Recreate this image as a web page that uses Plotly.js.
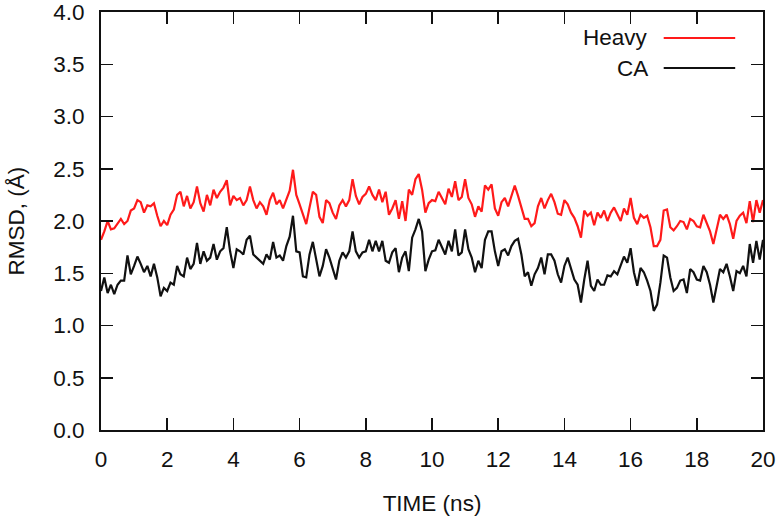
<!DOCTYPE html>
<html>
<head>
<meta charset="utf-8">
<script src="https://cdn.plot.ly/plotly-3.0.1.min.js"></script>
<style>html,body{margin:0;padding:0;background:#fff;}#chart{width:781px;height:518px;}</style>
</head>
<body>
<div id="chart"></div>
<script>
// Time grid: first sample and sampling step (ns)
const timeStart = 0;
const timeStep = 0.1;

// RMSD of heavy atoms (Å), sampled every 0.1 ns from 0 to 20 ns
const heavyRMSD = [
  1.82,1.90,2.00,1.92,1.93,1.98,2.02,1.97,2.00,2.10,
  2.12,2.20,2.18,2.08,2.15,2.14,2.17,2.05,1.95,2.00,
  1.96,2.06,2.11,2.25,2.28,2.14,2.24,2.12,2.18,2.33,
  2.17,2.09,2.25,2.15,2.30,2.22,2.28,2.32,2.39,2.15,
  2.24,2.20,2.22,2.15,2.20,2.33,2.20,2.12,2.18,2.14,
  2.06,2.20,2.27,2.16,2.20,2.12,2.21,2.29,2.49,2.25,
  2.16,2.06,1.97,2.13,2.28,2.25,2.04,1.98,2.20,2.17,
  2.08,2.02,2.15,2.20,2.14,2.20,2.40,2.24,2.16,2.23,
  2.26,2.33,2.25,2.20,2.30,2.18,2.28,2.06,2.12,2.20,
  2.02,2.19,2.00,2.30,2.25,2.40,2.45,2.30,2.08,2.17,
  2.20,2.19,2.28,2.22,2.16,2.31,2.23,2.38,2.20,2.23,
  2.40,2.22,2.16,2.04,2.14,2.09,2.34,2.30,2.35,2.12,
  2.05,2.18,2.22,2.14,2.25,2.34,2.24,2.12,2.02,2.02,
  1.95,1.98,2.14,2.22,2.12,2.20,2.26,2.18,2.07,2.06,
  2.20,2.16,2.08,2.03,1.95,1.84,2.10,2.05,2.08,1.96,
  2.08,2.03,2.10,2.00,2.08,2.13,2.06,2.00,2.12,2.06,
  2.22,2.03,1.97,2.06,2.03,2.05,1.94,1.76,1.76,1.82,
  2.10,2.11,1.94,1.91,1.95,2.00,1.99,1.92,2.02,2.00,
  1.95,1.94,2.06,1.97,1.90,1.78,1.93,2.06,2.02,2.06,
  1.97,1.83,2.00,2.05,2.08,1.98,2.19,1.99,2.20,2.08,
  2.20
];

// RMSD of C-alpha atoms (Å), sampled every 0.1 ns from 0 to 20 ns
const caRMSD = [
  1.33,1.46,1.31,1.39,1.30,1.39,1.43,1.43,1.67,1.49,
  1.57,1.66,1.59,1.51,1.57,1.47,1.59,1.46,1.28,1.36,
  1.33,1.41,1.39,1.57,1.49,1.47,1.65,1.54,1.59,1.79,
  1.59,1.71,1.62,1.65,1.78,1.63,1.71,1.74,1.94,1.71,
  1.55,1.73,1.71,1.68,1.82,1.86,1.68,1.65,1.62,1.59,
  1.68,1.63,1.80,1.65,1.67,1.62,1.76,1.85,2.05,1.71,
  1.70,1.47,1.46,1.68,1.80,1.65,1.47,1.57,1.73,1.65,
  1.55,1.44,1.62,1.70,1.65,1.71,1.90,1.71,1.65,1.70,
  1.71,1.82,1.71,1.81,1.71,1.81,1.62,1.60,1.70,1.74,
  1.51,1.65,1.71,1.52,1.84,1.92,2.02,1.90,1.52,1.63,
  1.71,1.72,1.82,1.75,1.68,1.81,1.71,1.92,1.67,1.70,
  1.92,1.73,1.65,1.51,1.62,1.55,1.82,1.90,1.90,1.71,
  1.57,1.71,1.73,1.67,1.76,1.81,1.83,1.68,1.47,1.51,
  1.38,1.49,1.55,1.65,1.49,1.68,1.68,1.62,1.49,1.41,
  1.57,1.65,1.54,1.44,1.39,1.22,1.44,1.62,1.38,1.33,
  1.44,1.39,1.39,1.48,1.47,1.52,1.49,1.57,1.66,1.60,
  1.74,1.51,1.38,1.55,1.51,1.43,1.33,1.14,1.20,1.41,
  1.67,1.65,1.46,1.33,1.36,1.43,1.44,1.31,1.54,1.51,
  1.44,1.43,1.57,1.51,1.39,1.22,1.39,1.54,1.51,1.59,
  1.47,1.33,1.52,1.50,1.57,1.47,1.78,1.60,1.81,1.63,
  1.82
];

const seriesNames = ['Heavy', 'CA'];
const seriesColors = ['#ff1a1a', '#111111'];
const xTitle = 'TIME (ns)';
const yTitle = 'RMSD, (Å)';
const yTickValues = [0, 0.5, 1, 1.5, 2, 2.5, 3, 3.5, 4];
const xTickValues = [0, 2, 4, 6, 8, 10, 12, 14, 16, 18, 20];

const FONT = 'Liberation Sans, Arial, Helvetica, sans-serif';
const FS = 22.5;

const traces = [
  {type: 'scatter', mode: 'lines', name: seriesNames[0], x0: timeStart, dx: timeStep, y: heavyRMSD,
   line: {color: seriesColors[0], width: 2.2}, showlegend: false},
  {type: 'scatter', mode: 'lines', name: seriesNames[1], x0: timeStart, dx: timeStep, y: caRMSD,
   line: {color: seriesColors[1], width: 2.2}, showlegend: false}
];

// Hand-made legend (labels to the left of the line samples)
const legendY = [0.938, 0.866];
const annotations = seriesNames.map((n, i) => ({
  xref: 'paper', yref: 'paper', x: 0.829, y: legendY[i], xanchor: 'right', yanchor: 'middle',
  text: n, showarrow: false, font: {family: FONT, size: FS, color: '#111'}
}));
const shapes = seriesNames.map((n, i) => ({
  type: 'line', xref: 'paper', yref: 'paper', x0: 0.850, x1: 0.958, y0: legendY[i], y1: legendY[i],
  line: {color: seriesColors[i], width: 2}
}));

const axisCommon = {
  showline: true, linecolor: '#111', linewidth: 2, mirror: 'ticks',
  ticks: 'inside', ticklen: 12, tickwidth: 1.5, tickcolor: '#111',
  showgrid: false, zeroline: false, tickmode: 'array', ticklabeloverflow: 'allow',
  tickfont: {family: FONT, size: FS, color: '#111'}
};

const layout = {
  width: 781, height: 518,
  margin: {l: 101, r: 18, t: 12, b: 88},
  paper_bgcolor: '#fff', plot_bgcolor: '#fff',
  font: {family: FONT, size: FS, color: '#111'},
  xaxis: Object.assign({}, axisCommon, {
    range: [0, 20], tickvals: xTickValues, ticklabelstandoff: 8,
    title: {text: xTitle, font: {family: FONT, size: FS, color: '#111'}, standoff: 24}
  }),
  yaxis: Object.assign({}, axisCommon, {
    range: [0, 4], tickvals: yTickValues, tickformat: '.1f', ticklabelstandoff: 10,
    title: {text: yTitle, font: {family: FONT, size: FS, color: '#111'}, standoff: 22}
  }),
  annotations: annotations,
  shapes: shapes
};

Plotly.newPlot('chart', traces, layout, {displayModeBar: false, staticPlot: true});
</script>
</body>
</html>
